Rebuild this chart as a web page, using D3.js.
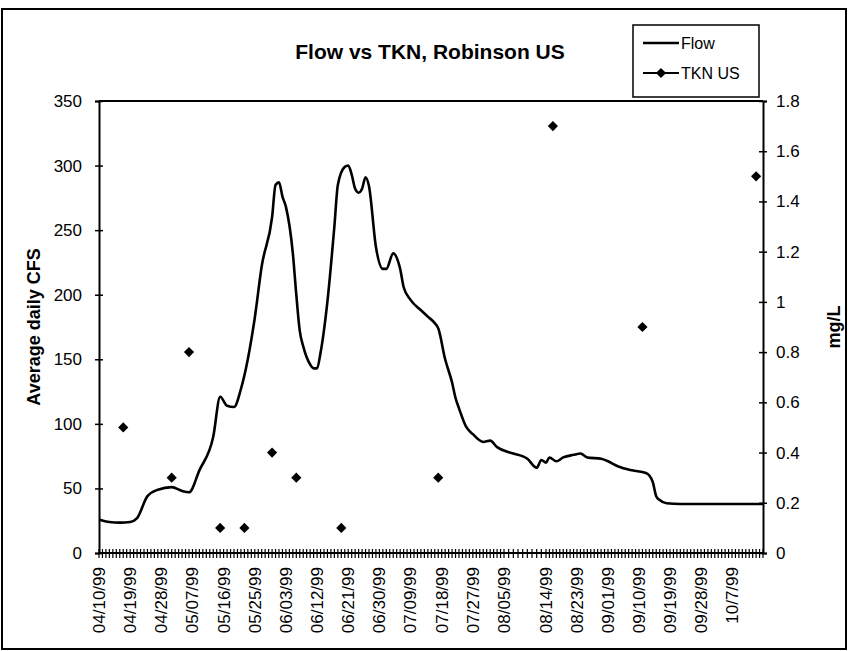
<!DOCTYPE html>
<html>
<head>
<meta charset="utf-8">
<script src="https://cdn.jsdelivr.net/npm/d3@7"></script>
<style>
  body { margin: 0; background: #fff; }
  svg text { font-family: "Liberation Sans", Arial, sans-serif; fill: #000; }
</style>
</head>
<body>
<svg width="848" height="651"></svg>
<script>
// daily flow (date, cfs)
var flowDates = ["04/10","04/13","04/16","04/19","04/21","04/24","04/27","05/01","05/04","05/06",
  "05/09","05/13","05/15","05/17","05/19","05/21","05/25","05/27","05/30","05/31",
  "06/01","06/02","06/03","06/05","06/06","06/07","06/08","06/10","06/11","06/12",
  "06/13","06/15","06/17","06/18","06/20","06/21","06/22","06/23","06/24","06/25",
  "06/26","06/27","06/29","07/01","07/02","07/04","07/06","07/07","07/09","07/12",
  "07/14","07/16","07/17","07/19","07/21","07/22","07/23","07/25","07/27","07/30",
  "08/01","08/03","08/06","08/07","08/10","08/12","08/13","08/14","08/15","08/17",
  "08/19","08/22","08/24","08/26","08/30","09/01","09/04","09/08","09/12","09/13",
  "09/14","09/15","09/16","09/18","09/22","10/16"];
var flowValues = [26,24,23.5,24,27,44,49,51,48,47,
  64,90,121,114,113,127,182,222,260,285,
  287,276,268,232,200,172,160,146,143,143,
  155,195,253,285,299,300,293,282,279,282,
  291,284,237,220,220,232,220,206,196,188,
  183,178,174,150,132,120,112,98,92,86,
  87,82,78,77,73,66,72,70,74,71,
  74,76,77,74,73,71,67,64,62,60,
  55,44,41,38.5,38,38];

// TKN samples (date, mg/L)
var tknDates = ["04/17","05/01","05/06","05/15","05/22","05/30","06/06","06/19","07/17","08/16","09/11","10/14"];
var tknValues = [0.5,0.3,0.8,0.1,0.1,0.4,0.3,0.1,0.3,1.7,0.9,1.5];

// axis labels
var dateLabels = ["04/10/99","04/19/99","04/28/99","05/07/99","05/16/99","05/25/99","06/03/99",
  "06/12/99","06/21/99","06/30/99","07/09/99","07/18/99","07/27/99","08/05/99","08/14/99",
  "08/23/99","09/01/99","09/10/99","09/19/99","09/28/99","10/7/99"];
var flowTicks = [0,50,100,150,200,250,300,350];
var tknTicks = [0,0.2,0.4,0.6,0.8,1,1.2,1.4,1.6,1.8];
// category axis in the scan has a few extra rows between 08/05 and 08/14
var axisBreaks = ["04/10/99","08/05/99","08/14/99","10/16/99"];

var svg = d3.select("svg");
var parseDay = d3.timeParse("%m/%d/%Y");
var parseLabel = d3.timeParse("%m/%d/%y");

var plot = {left: 99, right: 763, top: 101, bottom: 553};

var x = d3.scaleTime()
  .domain(axisBreaks.map(parseLabel))
  .range([plot.left, 504, 546, plot.right]);
var yFlow = d3.scaleLinear().domain([0, 350]).range([plot.bottom, plot.top]);
var yTkn = d3.scaleLinear().domain([0, 1.8]).range([plot.bottom, plot.top]);

var flow = flowDates.map(function(d, i) { return {date: parseDay(d + "/1999"), v: flowValues[i]}; });
var tkn = tknDates.map(function(d, i) { return {date: parseDay(d + "/1999"), v: tknValues[i]}; });

// outer chart frame
svg.append("rect")
  .attr("x", 2).attr("y", 9).attr("width", 844).attr("height", 640)
  .style("fill", "none").style("stroke", "#000").style("stroke-width", 2);

// title
svg.append("text")
  .attr("x", 430).attr("y", 59)
  .attr("text-anchor", "middle")
  .style("font-size", "21px").style("font-weight", "bold")
  .text("Flow vs TKN, Robinson US");

// plot box top edge
svg.append("line")
  .attr("x1", plot.left).attr("x2", plot.right)
  .attr("y1", plot.top).attr("y2", plot.top)
  .style("stroke", "#000").style("stroke-width", 2);

// left axis
var left = svg.append("g").attr("transform", "translate(" + plot.left + ",0)")
  .call(d3.axisLeft(yFlow).tickValues(flowTicks).tickSize(4).tickPadding(13));
// right axis
var right = svg.append("g").attr("transform", "translate(" + plot.right + ",0)")
  .call(d3.axisRight(yTkn).tickValues(tknTicks).tickSize(4).tickPadding(9)
    .tickFormat(function(d) { return d3.format("~g")(d); }));

[left, right].forEach(function(g) {
  g.select(".domain").style("stroke-width", 2);
  g.selectAll(".tick line").style("stroke-width", 1.5);
  g.selectAll(".tick text").style("font-size", "17px").style("font-family", null);
});
// ticks cross the axis line
left.selectAll(".tick line").attr("x1", 4);
right.selectAll(".tick line").attr("x1", -4);

// bottom axis: one tick per day, crossing the axis
var days = d3.timeDay.range(parseLabel(axisBreaks[0]), d3.timeDay.offset(parseLabel(axisBreaks[3]), 1));
var bottom = svg.append("g");
bottom.append("line")
  .attr("x1", plot.left).attr("x2", plot.right)
  .attr("y1", plot.bottom).attr("y2", plot.bottom)
  .style("stroke", "#000").style("stroke-width", 2);
bottom.selectAll("line.tick")
  .data(days)
  .enter()
  .append("line")
  .attr("class", "tick")
  .attr("x1", function(d) { return x(d); })
  .attr("x2", function(d) { return x(d); })
  .attr("y1", plot.bottom - 4)
  .attr("y2", plot.bottom + 5)
  .style("stroke", "#000").style("stroke-width", 1.2);

bottom.selectAll("text.date")
  .data(dateLabels)
  .enter()
  .append("text")
  .attr("class", "date")
  .attr("transform", function(d) { return "translate(" + x(parseLabel(d)) + "," + (plot.bottom + 14) + ") rotate(-90)"; })
  .attr("dy", "0.35em")
  .attr("text-anchor", "end")
  .style("font-size", "17px")
  .text(function(d) { return d; });

// axis titles
svg.append("text")
  .attr("transform", "translate(40," + ((plot.top + plot.bottom) / 2) + ") rotate(-90)")
  .attr("text-anchor", "middle")
  .style("font-size", "18px").style("font-weight", "bold")
  .text("Average daily CFS");
svg.append("text")
  .attr("transform", "translate(840," + ((plot.top + plot.bottom) / 2) + ") rotate(-90)")
  .attr("text-anchor", "middle")
  .style("font-size", "18px").style("font-weight", "bold")
  .text("mg/L");

// flow line
var line = d3.line()
  .curve(d3.curveMonotoneX)
  .x(function(d) { return x(d.date); })
  .y(function(d) { return yFlow(d.v); });

svg.append("path")
  .datum(flow)
  .attr("d", line)
  .style("fill", "none")
  .style("stroke", "#000")
  .style("stroke-width", 2.6)
  .style("stroke-linejoin", "round");

// TKN diamonds
function diamond(sel, cx, cy) {
  sel.append("rect")
    .attr("x", -3.6).attr("y", -3.6).attr("width", 7.2).attr("height", 7.2)
    .attr("transform", "translate(" + cx + "," + cy + ") rotate(45)")
    .style("fill", "#000");
}
var marks = svg.append("g").attr("id", "tkn");
tkn.forEach(function(d) { diamond(marks, x(d.date), yTkn(d.v)); });

// legend
var legend = svg.append("g").attr("transform", "translate(633,25)");
legend.append("rect")
  .attr("width", 126).attr("height", 72)
  .style("fill", "#fff").style("stroke", "#000").style("stroke-width", 1.5);
legend.append("line")
  .attr("x1", 10).attr("x2", 46).attr("y1", 18).attr("y2", 18)
  .style("stroke", "#000").style("stroke-width", 2.5);
legend.append("text").attr("x", 48).attr("y", 18).attr("dy", "0.35em")
  .style("font-size", "16px").text("Flow");
legend.append("line")
  .attr("x1", 10).attr("x2", 46).attr("y1", 48).attr("y2", 48)
  .style("stroke", "#000").style("stroke-width", 2);
diamond(legend, 28, 48);
legend.append("text").attr("x", 48).attr("y", 48).attr("dy", "0.35em")
  .style("font-size", "16px").text("TKN US");
</script>
</body>
</html>
